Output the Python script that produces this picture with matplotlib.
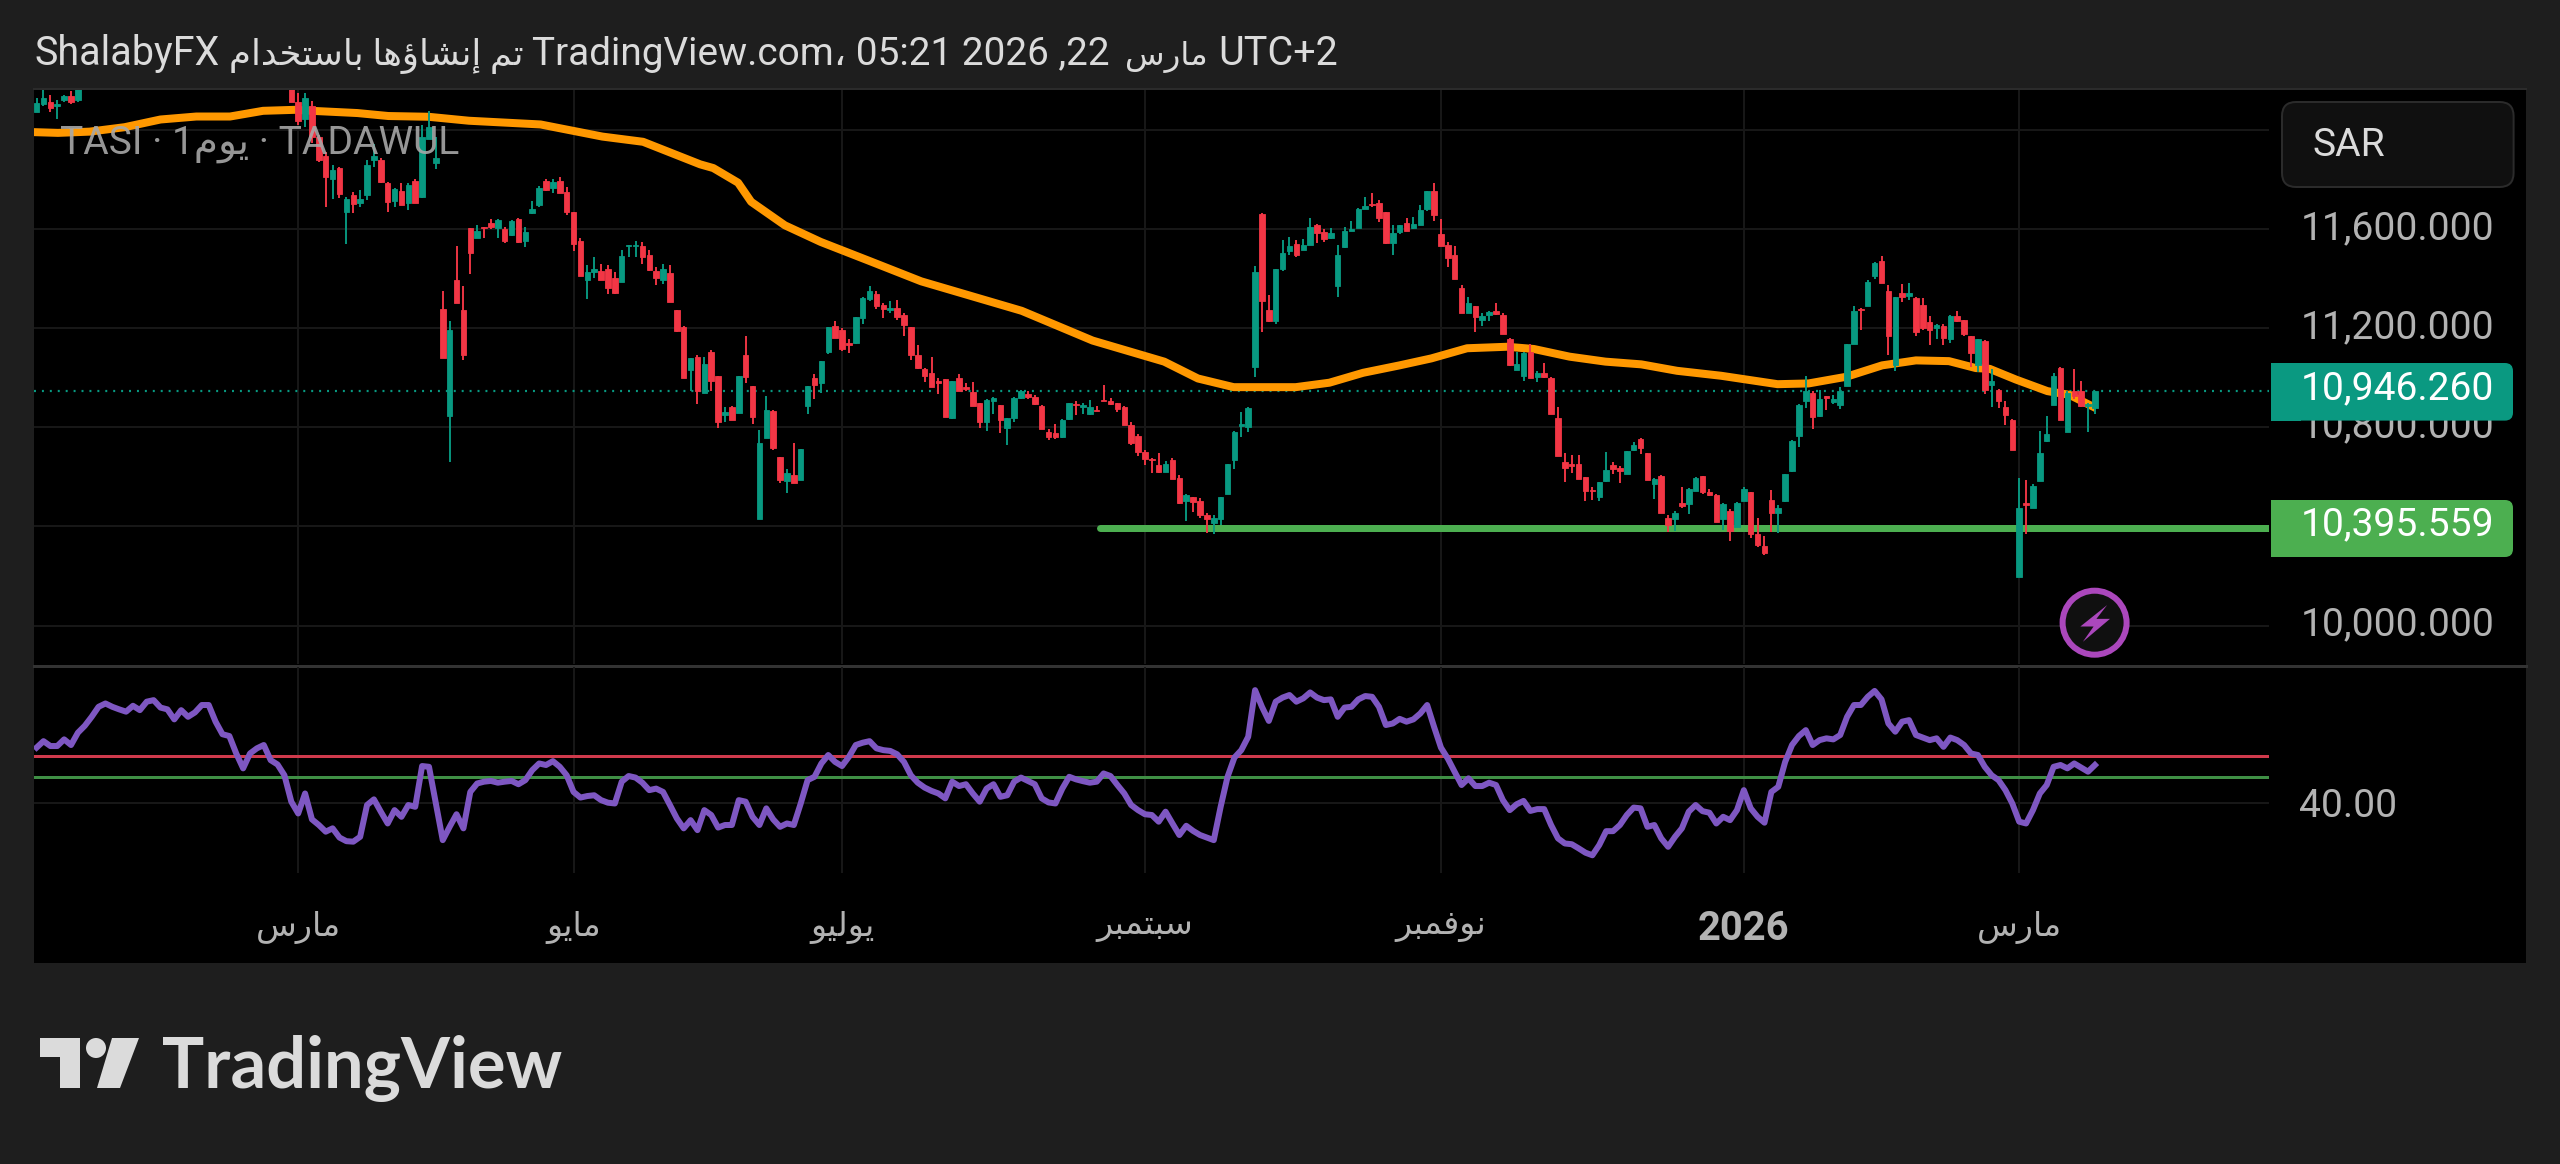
import numpy as np
import matplotlib
matplotlib.use("Agg")
import matplotlib.pyplot as plt
from matplotlib.patches import Rectangle, FancyBboxPatch, Circle, Polygon
from matplotlib.transforms import ScaledTranslation

nan = float("nan")

# ---------- data ----------
opens = [12073,12104,12111,12096,12119,12135,12119] + [nan]*30 + [
12230,12111,12042,12096,11973,11895,11800,11846,11667,11738,11707,11736,11880,11877,11787,11713,11753,11707,11795,11729,11965,11865,
11278,10846,11394,11274,11605,11564,11610,11625,11605,11602,11574,11639,11553,11664,11695,11795,11764,11795,11749,11667,11553,11394,
11425,11432,11440,11402,11386,11530,11530,11533,11494,11432,11394,11422,11274,11204,11031,11085,
10939,11105,11008,10849,10880,10859,11090,10965,10430,10757,10865,10679,10584,10607,10587,10885,11000,10977,11105,11209,11193,11139,
11139,11240,11317,11337,11294,11274,11281,11255,11206,11093,11036,11019,10985,10993,10838,10997,10962,10942,10897,10823,10908,10889,
10797,10838,10920,10934,10923,10888,10781,10777,10761,10834,10896,10880,10854,10869,10911,10905,10899,10883,10808,10766,10700,10672,
10649,10619,10669,10595,10502,10517,10504,10445,10414,10430,10530,10669,10804,10803,11044,11661,11274,11227,11440,11510,11541,11517,
11537,11618,11587,11564,11371,11528,11593,11605,11682,11702,11707,11667,11544,11587,
11625,11605,11615,11679,11753,11582,11537,11494,11363,11260,11291,11235,11255,11269,11255,11158,11031,11008,11105,11004,11019,11000,
10838,10661,10653,10653,10599,10548,10519,10584,10646,10636,10612,10707,10754,10696,10573,10604,10433,10430,10494,10491,10545,10602,
10541,10527,10430,10463,10396,10504,10537,10371,10322,10507,10453,10502,10622,10764,10908,10939,10846,10926,10903,10892,10966,11136,
11278,11291,11409,11471,11348,11050,11340,11328,11321,11294,11224,11201,11209,11155,11250,11232,11167,11050,11149,10970,10951,10880,
10828,10195,10494,10476,10584,10743,10889,11039,10781,10946,10946,10885,10877]

highs = [12130,12161,12142,12119,12142,12158,12173] + [nan]*30 + [
12260,12150,12150,12115,11980,11911,11857,11849,11729,11749,11757,11880,11942,11888,11791,11764,11784,11784,11800,12019,12077,11973,
11348,11229,11533,11371,11605,11618,11610,11641,11641,11610,11636,11644,11610,11713,11775,11803,11800,11811,11769,11667,11564,11456,
11486,11460,11456,11428,11517,11536,11551,11548,11517,11448,11459,11453,11274,11209,11078,11090,
11085,11112,11008,10880,10885,11008,11167,10965,10788,10926,10869,10679,10630,10735,10712,10965,11016,11067,11204,11229,11201,11155,
11244,11324,11371,11352,11301,11309,11314,11260,11206,11132,11039,11085,11000,10996,10988,11016,10977,10982,10900,10916,10923,10892,
10838,10923,10951,10946,10931,10889,10792,10815,10834,10900,10905,10897,10911,10885,10970,10920,10899,10885,10823,10772,10710,10676,
10695,10666,10676,10607,10530,10519,10514,10453,10445,10519,10653,10784,10862,10880,11451,11664,11332,11440,11556,11567,11556,11559,
11645,11621,11599,11605,11537,11610,11633,11684,11729,11744,11716,11667,11618,11618,
11644,11649,11695,11753,11784,11641,11548,11533,11375,11324,11291,11260,11270,11300,11260,11161,11105,11105,11136,11028,11059,11004,
10880,10696,10689,10687,10599,10561,10579,10700,10661,10642,10703,10741,10757,10696,10596,10607,10445,10463,10561,10556,10599,10605,
10553,10530,10494,10471,10499,10561,10541,10434,10360,10548,10488,10610,10749,10896,11008,10946,10951,10926,10931,10962,11136,11289,
11281,11394,11469,11490,11374,11324,11378,11383,11324,11321,11250,11216,11216,11254,11269,11235,11170,11158,11152,11034,10954,10908,
10834,10595,10587,10572,10784,10846,11019,11042,10946,11036,10985,10900,10946]

lows = [12073,12096,12073,12042,12111,12104,12111] + [nan]*30 + [
12111,12019,12011,11949,11872,11687,11723,11726,11541,11664,11687,11718,11852,11787,11669,11687,11695,11675,11706,11726,11965,11841,
11078,10661,11301,11070,11417,11564,11564,11599,11564,11545,11571,11544,11528,11661,11687,11753,11744,11744,11656,11510,11409,11317,
11402,11394,11337,11337,11386,11486,11486,11460,11432,11374,11379,11306,11186,11000,10946,10896,
10939,10946,10797,10823,10831,10859,10977,10815,10430,10757,10710,10576,10533,10576,10587,10854,10916,10939,11096,11161,11108,11098,
11136,11216,11309,11278,11240,11260,11235,11170,11070,11036,10982,10962,10936,10843,10834,10946,10946,10885,10797,10784,10854,10777,
10730,10823,10916,10916,10892,10792,10750,10754,10757,10831,10851,10854,10849,10865,10908,10892,10862,10808,10730,10684,10646,10615,
10615,10618,10592,10491,10422,10460,10433,10372,10368,10406,10530,10633,10761,10781,11004,11186,11224,11216,11432,11494,11486,11514,
11536,11544,11548,11561,11324,11525,11591,11605,11679,11687,11628,11541,11497,11579,
11591,11602,11615,11672,11633,11533,11448,11397,11260,11260,11186,11209,11229,11255,11178,11047,11031,10985,10997,10982,11000,10854,
10684,10579,10615,10592,10504,10507,10502,10581,10610,10576,10610,10704,10692,10587,10510,10453,10379,10383,10476,10450,10542,10530,
10522,10417,10386,10340,10396,10502,10355,10318,10283,10376,10372,10499,10621,10720,10877,10795,10843,10869,10896,10874,10966,11136,
11193,11291,11399,11383,11090,11028,11304,11314,11167,11193,11132,11155,11132,11142,11224,11167,11044,11024,10936,10880,10877,10808,
10707,10195,10371,10473,10584,10741,10889,10831,10781,10915,10880,10781,10854]

closes = [12108,12127,12088,12104,12135,12111,12165] + [nan]*30 + [
12111,12034,12127,11973,11880,11811,11838,11741,11723,11702,11723,11857,11895,11791,11710,11761,11698,11777,11707,11973,12011,11888,
11078,11193,11301,11093,11502,11594,11605,11610,11636,11553,11633,11548,11587,11682,11764,11757,11790,11746,11669,11541,11409,11425,
11440,11394,11363,11343,11491,11536,11537,11486,11436,11402,11440,11306,11189,11000,11078,10946,
11054,10985,10823,10862,10831,11008,11004,10843,10735,10869,10715,10587,10615,10576,10712,10965,10970,11067,11204,11162,11116,11132,
11244,11320,11348,11291,11278,11283,11247,11212,11093,11039,11008,10962,10980,10843,10985,10946,10954,10885,10823,10911,10919,10831,
10838,10920,10946,10923,10896,10792,10761,10761,10831,10897,10889,10889,10880,10865,10908,10896,10874,10808,10735,10700,10673,10667,
10618,10653,10592,10494,10527,10499,10448,10430,10433,10519,10650,10781,10812,10877,11428,11309,11229,11437,11505,11530,11494,11536,
11607,11584,11559,11582,11494,11594,11602,11679,11692,11695,11645,11545,11584,11618,
11591,11621,11676,11753,11656,11533,11482,11397,11260,11301,11244,11250,11267,11258,11178,11050,11054,11101,10997,11019,11004,10854,
10684,10635,10642,10592,10545,10542,10579,10627,10630,10622,10703,10730,10715,10587,10592,10453,10406,10456,10484,10553,10596,10538,
10528,10417,10491,10383,10494,10553,10368,10325,10291,10456,10476,10610,10746,10892,10946,10843,10916,10920,10916,10946,11136,11270,
11274,11386,11463,11383,11167,11324,11324,11340,11186,11201,11193,11213,11162,11250,11229,11178,11101,11155,10951,10985,10908,10849,
10707,10476,10488,10565,10695,10775,11008,10831,10939,10926,10885,10896,10946]

ma_index = [-0.4,3.1,7.7,12.8,18,23.2,28.1,32.9,37.5,40.7,46.6,51.1,56.9,62.8,73.2,82.2,88.1,96.4,98.3,101.9,103.8,108.7,113.9,121,128.5,
            143.1,153.4,163.8,168.7,173.9,182.9,187.8,192.7,198,202.6,207.8,213.6,217.5,222.7,227.9,233.1,238.3,244.7,252.9,257.4,
            262.9,268.1,273,277.8,281.7,283.7,287.5,292.1,295.3,298.6]
ma_value = [11991,11988,11993,12011,12042,12054,12054,12077,12081,12076,12068,12056,12053,12037,12022,11973,11952,11861,11846,11787,11710,
            11615,11548,11471,11389,11270,11150,11065,10997,10962,10962,10980,11020,11050,11078,11119,11125,11116,11085,11065,11054,
            11028,11008,10974,10977,11004,11050,11070,11067,11039,11036,10993,10946,10931,10885]

rsi = [61.5,64.0,62.1,62.1,64.7,62.5,67.3,70.0,73.5,77.4,78.7,77.4,76.4,75.5,77.8,76.1,79.4,80.0,77.1,76.4,
72.5,76.1,73.5,75.2,78.1,78.1,71.6,66.7,66.0,59.2,53.4,59.2,61.2,62.5,56.6,54.9,50.7,40.4,35.8,43.6,
33.5,31.3,28.7,30.0,26.4,25.0,24.8,26.7,39.1,41.3,36.5,31.9,37.1,34.5,39.1,38.4,54.3,54.0,39.7,25.4,
30.6,35.5,30.0,44.2,47.5,48.2,48.5,47.8,48.2,48.5,47.2,48.8,52.7,55.3,54.7,56.2,54.0,50.7,44.2,42.0,
42.6,42.9,41.0,40.0,39.7,48.2,50.4,49.8,47.8,44.9,45.5,44.2,39.1,33.9,30.0,33.2,29.3,37.1,35.2,30.3,
31.3,31.3,41.0,40.4,34.5,31.3,37.8,33.5,30.6,31.9,31.3,39.7,48.8,50.1,55.3,58.6,55.9,54.3,57.9,62.5,
63.4,64.0,61.2,60.5,60.2,58.9,55.9,50.7,47.8,45.9,44.6,43.6,41.7,48.2,46.5,47.2,43.6,40.4,45.5,47.2,
42.3,42.9,48.2,49.8,48.5,47.2,41.7,40.1,39.7,45.5,50.1,49.1,48.4,47.8,48.2,51.4,50.4,46.9,43.6,39.1,
37.1,35.5,35.2,32.6,36.5,31.9,27.4,31.0,29.0,27.4,26.4,25.4,38.4,50.1,57.6,60.5,65.7,83.9,77.4,71.9,
79.4,81.0,82.0,79.4,80.7,83.0,81.0,80.0,80.3,73.5,77.1,77.4,80.3,81.6,81.3,77.4,70.3,70.9,72.7,71.6,
72.5,74.8,78.1,69.6,61.5,57.2,52.0,46.9,49.5,46.5,46.5,47.8,46.9,41.0,37.1,39.4,40.7,36.8,37.5,37.5,
31.3,26.1,24.1,23.8,22.2,20.5,19.5,23.5,28.9,28.9,31.3,35.2,38.1,37.8,30.6,31.3,26.1,22.8,26.7,30.0,
36.5,39.1,36.7,36.1,31.9,34.5,33.2,37.1,44.9,37.8,34.5,32.2,44.2,46.2,55.9,62.5,66.0,68.3,62.5,64.4,
65.1,64.7,66.4,73.5,78.1,78.1,81.3,83.6,80.3,70.9,67.7,71.6,72.2,66.4,65.4,64.4,65.1,61.8,65.4,64.4,
62.5,59.2,58.6,54.0,50.7,48.8,44.9,39.7,32.6,31.9,37.1,43.6,46.9,54.0,54.7,53.4,55.3,53.7,52.1,54.7]

last_price = 10946.26
support_level = 10395.559
support_start = 154.5
rsi_upper = 58.2
rsi_lower = 50.0
price_ticks = [10000, 10400, 10800, 11200, 11600, 12000]
price_tick_labels = ["10,000.000", "", "10,800.000", "11,200.000", "11,600.000", ""]
month_ticks = [38, 78, 117, 161, 204, 248, 288]
month_names = ["مارس", "مايو", "يوليو", "سبتمبر", "نوفمبر", "2026", "مارس"]

# ---------- Arabic shaping (matplotlib has no shaper) ----------
FORMS = {
 "ا":(0xFE8D,0xFE8E), "إ":(0xFE87,0xFE88), "ؤ":(0xFE85,0xFE86), "د":(0xFEA9,0xFEAA), "ر":(0xFEAD,0xFEAE), "و":(0xFEED,0xFEEE),
 "ب":(0xFE8F,0xFE90,0xFE91,0xFE92), "ت":(0xFE95,0xFE96,0xFE97,0xFE98), "خ":(0xFEA5,0xFEA6,0xFEA7,0xFEA8),
 "س":(0xFEB1,0xFEB2,0xFEB3,0xFEB4), "ش":(0xFEB5,0xFEB6,0xFEB7,0xFEB8), "ف":(0xFED1,0xFED2,0xFED3,0xFED4),
 "ل":(0xFEDD,0xFEDE,0xFEDF,0xFEE0), "م":(0xFEE1,0xFEE2,0xFEE3,0xFEE4), "ن":(0xFEE5,0xFEE6,0xFEE7,0xFEE8),
 "ه":(0xFEE9,0xFEEA,0xFEEB,0xFEEC), "ي":(0xFEF1,0xFEF2,0xFEF3,0xFEF4),
}
def visual(text):
    if text.isdigit():
        return text
    out = []
    for k, ch in enumerate(text):
        f = FORMS.get(ch)
        if f is None:
            out.append(ch); continue
        prev = text[k-1] if k else ""
        nxt = text[k+1] if k+1 < len(text) else ""
        jp = prev in FORMS and len(FORMS[prev]) == 4
        jn = len(f) == 4 and nxt in FORMS
        if jp and jn: c = f[3]
        elif jn: c = f[2]
        elif jp: c = f[1]
        else: c = f[0]
        out.append(chr(c))
    return "".join(reversed(out))

FONT = ["Roboto", "DejaVu Sans"]
W, H = 2560, 1164
BG = "#1e1e1e"
GRID = "#171717"
TXT = "#b2b2b2"
UP, DOWN = "#089981", "#f23645"
px = 72 / 100  # points per pixel at dpi 100

plt.rcParams["font.family"] = FONT
fig = plt.figure(figsize=(W/100, H/100), dpi=100, facecolor=BG)

def axes_px(x0, y0, x1, y1, **kw):
    return fig.add_axes([x0/W, 1-y1/H, (x1-x0)/W, (y1-y0)/H], **kw)

# background of the whole chart card
bg = axes_px(0, 0, W, H, zorder=0)
bg.set_xlim(0, W); bg.set_ylim(H, 0); bg.axis("off")
bg.add_patch(Rectangle((34, 90), 2526-34, 963-90, fc="#000000", ec="none"))
bg.plot([34, 2526], [89, 89], color="#2b2b2b", lw=2*px)
bg.plot([34, 2526], [665.5, 665.5], color="#333333", lw=3*px)

X0 = (34-36.6)/6.884
X1 = (2269-36.6)/6.884

# ---------- main pane ----------
ax = axes_px(34, 90, 2269, 664, zorder=1)
ax.set_facecolor("none")
ax.set_xlim(X0, X1)
ax.set_ylim(9845, 12161)
for s in ax.spines.values():
    s.set_visible(False)
ax.yaxis.tick_right()
ax.set_yticks(price_ticks, price_tick_labels)
ax.set_xticks(month_ticks, [""]*len(month_ticks))
ax.tick_params(axis="x", length=0)
ax.tick_params(axis="y", length=0, pad=(2494.6-2269)*px, labelsize=39*px, labelcolor=TXT)
ax.grid(True, color=GRID, lw=2*px, zorder=0)
ax.set_axisbelow(True)
off = ScaledTranslation(0, 4.5/100, fig.dpi_scale_trans)
for lab in ax.get_yticklabels():
    lab.set_ha("right")
    lab.set_transform(lab.get_transform() + off)

idx = np.arange(len(closes))
o, h, l, c = map(np.array, (opens, highs, lows, closes))
mask = np.isfinite(c)
cols = np.where(c >= o, UP, DOWN)
ax.axhline(last_price, color=UP, lw=2.2*px, ls=(0, (0.9, 2.7)), zorder=1.5)
ax.plot([support_start, X1], [support_level]*2, color="#4caf50", lw=7*px, solid_capstyle="round", zorder=2)
ax.plot(ma_index, ma_value, color="#ff9800", lw=8*px, solid_joinstyle="round", zorder=2.5)
ax.vlines(idx[mask], l[mask], h[mask], colors=cols[mask], lw=1.9*px, zorder=3)
ax.bar(idx[mask], (c-o)[mask], bottom=o[mask], width=0.8, color=cols[mask], edgecolor=cols[mask], lw=0.6, zorder=3)

# ---------- RSI pane ----------
ax2 = axes_px(34, 667, 2269, 873, zorder=1)
ax2.set_facecolor("none")
ax2.set_xlim(X0, X1)
ax2.set_ylim(40-(873-802.7)/2.564, 40+(802.7-667)/2.564)
for s in ax2.spines.values():
    s.set_visible(False)
ax2.yaxis.tick_right()
ax2.set_yticks([40], ["40.00"])
ax2.set_xticks(month_ticks, [visual(m) for m in month_names])
ax2.tick_params(axis="x", length=0, pad=27, labelsize=24, labelcolor=TXT)
ax2.tick_params(axis="y", length=0, pad=(2396.7-2269)*px, labelsize=39*px, labelcolor=TXT)
ax2.grid(True, color=GRID, lw=2*px, zorder=0)
ax2.set_axisbelow(True)
for lab in ax2.get_yticklabels():
    lab.set_ha("right")
for lab, name in zip(ax2.get_xticklabels(), month_names):
    if name == "2026":
        lab.set_fontweight("bold")
        lab.set_fontsize(40*px)
ax2.axhline(rsi_upper, color="#cf3a4c", lw=3*px, zorder=2)
ax2.axhline(rsi_lower, color="#3f8f45", lw=3*px, zorder=2)
ax2.plot(idx, rsi, color="#7e57c2", lw=6*px, zorder=3, solid_joinstyle="round")

# ---------- overlay: labels, badges, logo ----------
ov = axes_px(0, 0, W, H, zorder=5)
ov.set_xlim(0, W); ov.set_ylim(H, 0); ov.axis("off"); ov.patch.set_alpha(0)

HDR = "#dbdbdb"
ov.text(34, 65, "ShalabyFX", color=HDR, fontsize=39.5*px, va="baseline")
ov.text(229, 65, visual("تم إنشاؤها باستخدام"), color=HDR, fontsize=35.5*px, va="baseline")
ov.text(532, 65, "TradingView.com، 05:21 2026 ,22", color=HDR, fontsize=38.8*px, va="baseline")
ov.text(1125, 65, visual("مارس"), color=HDR, fontsize=32.5*px, va="baseline")
ov.text(1218, 65, "UTC+2", color=HDR, fontsize=39.5*px, va="baseline")
ov.text(60, 153.5, "TASI · 1" + visual("يوم") + " · TADAWUL", color="#a8a8a8", fontsize=39*px, ha="left", va="baseline", alpha=0.9)

ov.add_patch(FancyBboxPatch((2282+14, 102+14), 231.6-28, 85-28, boxstyle="round,pad=14,rounding_size=14",
                            fc="#101010", ec="#2b2b2b", lw=2*px))
ov.text(2312.5, 156, "SAR", color="#dbdbdb", fontsize=39*px, ha="left", va="baseline")

def badge(y0, y1, color, text, ty):
    ov.add_patch(FancyBboxPatch((2271+8, y0+8), 2513-2271-16, y1-y0-16, boxstyle="round,pad=8,rounding_size=8", fc=color, ec="none"))
    ov.add_patch(Rectangle((2271, y0), 30, y1-y0, fc=color, ec="none"))
    ov.text(2494.6, ty, text, color="#ffffff", fontsize=39*px, ha="right", va="center")
badge(363, 420.6, "#0a9981", "10,946.260", 389)
badge(500, 557, "#4caf50", "10,395.559", 525)

ov.add_patch(Circle((2094.6, 622.7), 32, fc="#101010", ec="#ab47bc", lw=6*px))
bolt = [(300,1372),(225,1428),(262,1428),(232,1468),(308,1408),(270,1408)]
ov.add_patch(Polygon([(2000+a/2.8, 80+b/2.613) for a, b in bolt], fc="#ab47bc", ec="none"))

LOGO = "#dbdbdb"
ov.add_patch(Polygon([(40,1038),(80,1038),(80,1088),(60,1088),(60,1057),(40,1057)], fc=LOGO, ec="none"))
ov.add_patch(Circle((96,1048), 10, fc=LOGO, ec="none"))
ov.add_patch(Polygon([(112,1038),(139,1038),(120,1088),(97,1088)], fc=LOGO, ec="none"))
ov.text(162, 1088, "TradingView", color=LOGO, fontsize=70.5*px, family="Lato", weight="bold", ha="left", va="baseline")

fig.savefig("out.png", dpi=100, facecolor=BG)
